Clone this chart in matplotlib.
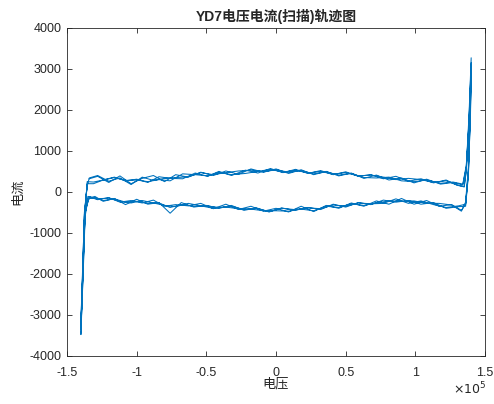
"""Recreate the YD7 voltage/current sweep trajectory chart (MATLAB look)."""

import matplotlib
matplotlib.use('Agg')
import matplotlib.pyplot as plt
import numpy as np

# voltage grids (x 1e5 V): upper branch runs left->right, lower branch right->left
up_v_a = [-1.34, -1.28, -1.20, -1.12, -1.04, -0.96, -0.88, -0.80, -0.72, -0.63, -0.54,
          -0.45, -0.36, -0.27, -0.18, -0.09, 0.00, 0.09, 0.18, 0.27, 0.36, 0.45, 0.54,
          0.63, 0.72, 0.81, 0.90, 0.99, 1.08, 1.18, 1.27, 1.34]
up_v_b = [-1.31, -1.24, -1.16, -1.08, -1.00, -0.92, -0.84, -0.76, -0.67, -0.58, -0.49,
          -0.41, -0.32, -0.22, -0.13, -0.04, 0.05, 0.14, 0.23, 0.32, 0.41, 0.50, 0.59,
          0.68, 0.77, 0.86, 0.95, 1.04, 1.13, 1.22, 1.30, 1.35]
low_v_a = [1.33, 1.26, 1.17, 1.08, 0.99, 0.90, 0.81, 0.72, 0.63, 0.54, 0.45, 0.36,
           0.27, 0.18, 0.09, 0.00, -0.09, -0.18, -0.27, -0.36, -0.45, -0.54, -0.63,
           -0.72, -0.80, -0.88, -0.96, -1.04, -1.12, -1.20, -1.28, -1.34]
low_v_b = [1.31, 1.22, 1.13, 1.04, 0.95, 0.86, 0.77, 0.68, 0.59, 0.50, 0.41, 0.32,
           0.23, 0.13, 0.04, -0.05, -0.14, -0.23, -0.32, -0.41, -0.50, -0.59, -0.68,
           -0.76, -0.84, -0.92, -1.00, -1.08, -1.16, -1.24, -1.30, -1.35]
spike_r_v = [1.365, 1.385, 1.40, 1.395, 1.38, 1.36]
spike_l_v = [-1.37, -1.385, -1.40, -1.39, -1.375, -1.355]

# current readings per sweep cycle
up_i = [
    [320, 380, 230, 390, 200, 330, 400, 250, 420, 360, 480, 400, 510, 430, 560, 480,
     560, 450, 540, 420, 500, 390, 460, 330, 410, 290, 340, 220, 310, 190, 230, 170],
    [200, 290, 360, 270, 310, 230, 370, 330, 320, 460, 380, 500, 400, 530, 460, 570,
     470, 550, 450, 520, 420, 490, 380, 420, 320, 380, 260, 320, 220, 290, 160, 130],
    [340, 400, 260, 340, 180, 360, 280, 330, 350, 370, 470, 420, 470, 510, 530, 490,
     540, 480, 520, 440, 490, 410, 450, 350, 340, 360, 270, 250, 290, 210, 240, 190],
    [240, 290, 350, 280, 290, 250, 300, 270, 440, 420, 390, 480, 420, 450, 500, 550,
     480, 530, 460, 500, 430, 470, 390, 410, 360, 300, 330, 300, 230, 270, 170, 120],
]
low_i = [
    [-450, -310, -350, -210, -300, -160, -300, -220, -350, -270, -400, -330, -480, -350,
     -490, -400, -470, -350, -430, -300, -410, -280, -340, -310, -350, -200, -270, -210,
     -250, -140, -190, -120],
    [-360, -400, -260, -300, -210, -250, -200, -310, -260, -370, -300, -430, -380, -450,
     -390, -490, -390, -450, -330, -400, -330, -370, -260, -520, -260, -300, -180, -310,
     -160, -230, -110, -180],
    [-470, -320, -280, -280, -220, -230, -220, -270, -330, -290, -380, -350, -460, -420,
     -470, -460, -460, -420, -410, -370, -400, -340, -280, -360, -330, -270, -210, -270,
     -230, -150, -170, -140],
    [-340, -380, -310, -220, -280, -170, -280, -290, -270, -350, -320, -410, -390, -430,
     -400, -480, -400, -430, -350, -380, -340, -350, -310, -380, -270, -280, -230, -250,
     -170, -210, -140, -110],
]
spike_r_i = [
    [600, 1900, 3270, 2100, 500, -300],
    [500, 1800, 3150, 2000, 400, -350],
    [650, 1700, 3050, 2200, 600, -250],
    [550, 1600, 2950, 1900, 450, -300],
]
spike_l_i = [
    [-500, -2000, -3480, -2300, -600, 200],
    [-600, -2100, -3350, -2200, -500, 150],
    [-450, -1900, -3250, -2400, -700, 250],
    [-550, -1800, -3150, -2100, -550, 180],
]

x_ticks = [-1.5, -1, -0.5, 0, 0.5, 1, 1.5]
x_labels = ['-1.5', '-1', '-0.5', '0', '0.5', '1', '1.5']
y_ticks = [-4000, -3000, -2000, -1000, 0, 1000, 2000, 3000, 4000]

plt.rcParams['axes.unicode_minus'] = False
plt.rcParams['font.family'] = ['Liberation Sans', 'Noto Sans CJK SC', 'DejaVu Sans']

# one continuous trace through all cycles, alternating the two sample grids
grids = [(up_v_a, low_v_a), (up_v_b, low_v_b)]
volts, amps = [], []
for k in range(len(up_i)):
    gu, gl = grids[k % 2]
    volts += gu + spike_r_v + gl + spike_l_v
    amps += up_i[k] + spike_r_i[k] + low_i[k] + spike_l_i[k]
volts = np.array(volts) * 1e5

fig = plt.figure(figsize=(4.94, 4.04), dpi=100)
ax = fig.add_axes([0.1356, 0.119, 0.8464, 0.812])
ax.plot(volts, amps, color='#0072BD', linewidth=0.75)

ax.set_xlim(-1.5e5, 1.5e5)
ax.set_ylim(-4000, 4000)
ax.set_xticks(np.array(x_ticks) * 1e5, x_labels)
ax.set_yticks(y_ticks)

dark = '#262626'
for sp in ax.spines.values():
    sp.set_color(dark)
    sp.set_linewidth(0.6)
ax.tick_params(direction='in', length=3.5, width=0.6, colors=dark,
               top=True, right=True, labelsize=9)
ax.tick_params(axis='x', pad=8)
ax.tick_params(axis='y', pad=4)

ax.set_title('YD7电压电流(扫描)轨迹图', fontsize=10, fontweight='bold',
             color=dark, pad=5)
ax.set_xlabel('电压', fontsize=9.5, color=dark, labelpad=-1)
ax.set_ylabel('电流', fontsize=9.5, color=dark, labelpad=4)
fig.text(0.918, 0.025, r'$\times10^5$', fontsize=9, color=dark)

fig.savefig('out.png', dpi=100)
